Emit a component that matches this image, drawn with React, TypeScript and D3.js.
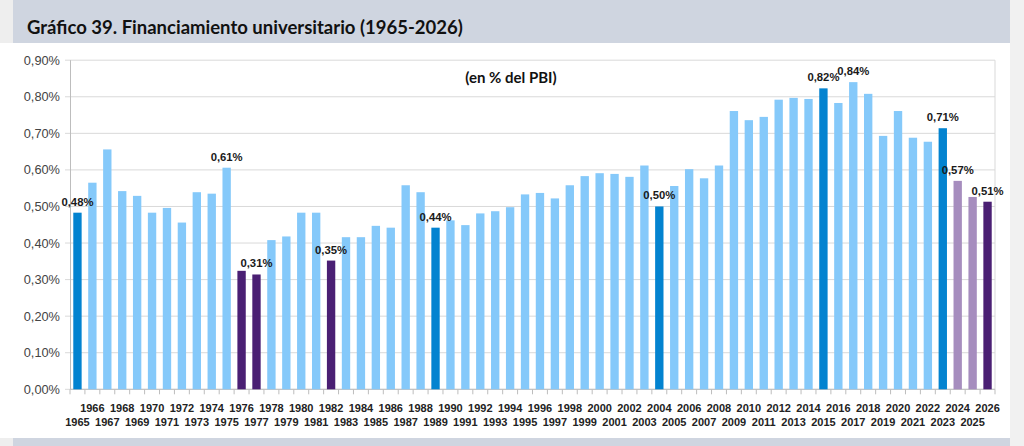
import React from "react";
import * as d3 from "d3";

const years: number[] = d3.range(1965, 2027);
const values: number[] = [
  0.483, 0.565, 0.656, 0.542, 0.529, 0.483, 0.496, 0.456, 0.539, 0.535,
  0.606, 0.324, 0.314, 0.408, 0.418, 0.483, 0.483, 0.352, 0.416, 0.416,
  0.447, 0.442, 0.558, 0.539, 0.442, 0.462, 0.449, 0.481, 0.487, 0.498,
  0.533, 0.537, 0.522, 0.558, 0.583, 0.591, 0.589, 0.581, 0.612, 0.50,
  0.556, 0.602, 0.577, 0.612, 0.761, 0.736, 0.745, 0.792, 0.797, 0.794,
  0.823, 0.783, 0.840, 0.808, 0.693, 0.761, 0.688, 0.677, 0.714, 0.570,
  0.526, 0.513,
];
const darkBlueYears: number[] = [1965, 1989, 2004, 2015, 2023];
const purpleYears: number[] = [1976, 1977, 1982, 2026];
const lightPurpleYears: number[] = [2024, 2025];
const labeledYears: number[] = [1965, 1975, 1977, 1982, 1989, 2004, 2015, 2017, 2023, 2024, 2026];
const yTicks: number[] = d3.range(0, 0.91, 0.1);

const title = "Gráfico 39. Financiamiento universitario (1965-2026)";
const subtitle = "(en % del PBI)";

const W = 1024;
const H = 446;
const x0 = 70, x1 = 995, yTop = 60.2, yBase = 389.3;

const fmt = (v: number, d: number) => v.toFixed(d).replace(".", ",") + "%";

export default function App() {
  const x = d3.scaleBand<number>().domain(years).range([x0, x1]).paddingInner(0.44).paddingOuter(0.22);
  const y = d3.scaleLinear().domain([0, 0.9]).range([yBase, yTop]);
  const color = (yr: number) =>
    darkBlueYears.includes(yr) ? "#0383D0" :
    purpleYears.includes(yr) ? "#4A1F73" :
    lightPurpleYears.includes(yr) ? "#A68DBE" : "#85C9FA";
  const step = x.step();
  const axisFont = "'Liberation Sans', Arial, sans-serif";
  const titleFont = "Lato, 'Open Sans', sans-serif";

  return (
    <svg width={W} height={H} style={{ position: "absolute", left: 0, top: 0 }}>
      <rect x={0} y={0} width={W} height={H} fill="#ffffff" />
      <rect x={0} y={0} width={13} height={43} fill="#EEEEEE" />
      <rect x={1010} y={0} width={14} height={H} fill="#F1F1F1" />
      <rect x={13} y={0} width={997} height={43} fill="#CFD5E0" />
      <rect x={0} y={438} width={13} height={8} fill="#EEEEEE" />
      <rect x={13} y={438} width={997} height={8} fill="#CFD5E0" />
      <text x={27} y={34} fontFamily={titleFont} fontWeight="bold" fontSize={18.5} fill="#111">{title}</text>

      {yTicks.map((t) => (
        <g key={t}>
          <line x1={x0 - 5} x2={x1} y1={y(t)} y2={y(t)} stroke="#D9D9D9" strokeWidth={1} />
          <text x={60} y={y(t)} dy="0.35em" textAnchor="end" fontFamily={axisFont} fontSize={12.8} fill="#444">{fmt(t, 2)}</text>
        </g>
      ))}
      <line x1={x1} x2={x1} y1={yTop} y2={yBase} stroke="#D9D9D9" />
      <line x1={x0 + 0.5} x2={x0 + 0.5} y1={yTop} y2={yBase} stroke="#BDBDBD" />
      <line x1={x0} x2={x1} y1={yBase} y2={yBase} stroke="#BDBDBD" />
      {d3.range(0, years.length + 1).map((i) => (
        <line key={i} x1={x0 + i * step} x2={x0 + i * step} y1={yBase} y2={yBase + 5} stroke="#BDBDBD" />
      ))}

      <text x={511} y={83} textAnchor="middle" fontFamily={titleFont} fontWeight="bold" fontSize={15} fill="#111">{subtitle}</text>

      {years.map((yr, i) => (
        <rect key={yr} x={x(yr)!} y={y(values[i])} width={x.bandwidth()} height={yBase - y(values[i])} fill={color(yr)} />
      ))}

      {years.map((yr, i) =>
        labeledYears.includes(yr) ? (
          <text key={"l" + yr} x={x(yr)! + x.bandwidth() / 2} y={y(values[i]) - 7} textAnchor="middle" fontFamily={axisFont} fontWeight="bold" fontSize={11.3} fill="#1a1a1a">
            {fmt(values[i], 2)}
          </text>
        ) : null
      )}

      {years.map((yr) => (
        <text key={"x" + yr} x={x(yr)! + x.bandwidth() / 2} y={yr % 2 === 0 ? 411.5 : 425.5} textAnchor="middle" fontFamily={axisFont} fontWeight="bold" fontSize={11} fill="#222">{yr}</text>
      ))}
    </svg>
  );
}
